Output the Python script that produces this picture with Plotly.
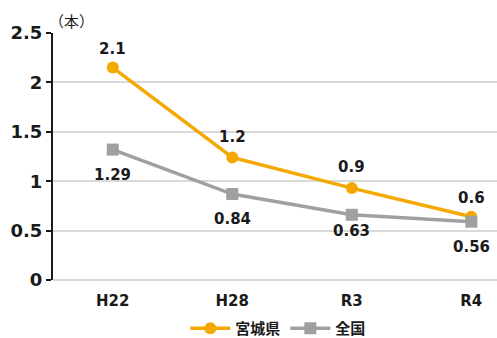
import plotly.graph_objects as go

categories = ["H22", "H28", "R3", "R4"]
miyagi_values = [2.15, 1.24, 0.93, 0.64]
miyagi_labels = ["2.1", "1.2", "0.9", "0.6"]
national_values = [1.32, 0.87, 0.66, 0.59]
national_labels = ["1.29", "0.84", "0.63", "0.56"]
y_ticks = [0, 0.5, 1, 1.5, 2, 2.5]
y_ticklabels = ["0", "0.5", "1", "1.5", "2", "2.5"]

# vertical label offsets (pixels) as placed in the original
miyagi_label_shift = [19, 20, 21, 19]
national_label_shift = [-25, -25, -16, -25]

FONT = "DejaVu Sans, Noto Sans CJK JP"
ORANGE = "#F5A800"
GRAY = "#A0A0A0"

fig = go.Figure()
fig.add_trace(go.Scatter(
    x=categories, y=miyagi_values, name="宮城県",
    mode="lines+markers",
    line=dict(color=ORANGE, width=3.5),
    marker=dict(symbol="circle", size=12, color=ORANGE),
    cliponaxis=False,
))
fig.add_trace(go.Scatter(
    x=categories, y=national_values, name="全国",
    mode="lines+markers",
    line=dict(color=GRAY, width=3.5),
    marker=dict(symbol="square", size=12, color=GRAY),
    cliponaxis=False,
))

annotations = []
for cat, val, lab, sh in zip(categories, miyagi_values, miyagi_labels, miyagi_label_shift):
    annotations.append(dict(x=cat, y=val, text=lab, showarrow=False, yshift=sh,
                            xanchor="center", yanchor="middle",
                            font=dict(family=FONT, size=15, color="#1a1a1a", weight="bold")))
for cat, val, lab, sh in zip(categories, national_values, national_labels, national_label_shift):
    annotations.append(dict(x=cat, y=val, text=lab, showarrow=False, yshift=sh,
                            xanchor="center", yanchor="middle",
                            font=dict(family=FONT, size=15, color="#1a1a1a", weight="bold")))
annotations.append(dict(text="（本）", xref="paper", yref="paper", x=0, y=1,
                        xanchor="left", yanchor="bottom", xshift=-6, yshift=0,
                        showarrow=False,
                        font=dict(size=15, family="Noto Sans CJK JP", color="#1a1a1a")))

fig.update_layout(
    width=497, height=338,
    margin=dict(l=53, r=0, t=33, b=58, autoexpand=False),
    paper_bgcolor="white", plot_bgcolor="white",
    font=dict(family=FONT, color="#1a1a1a"),
    showlegend=True,
    legend=dict(orientation="h", xref="container", x=0.56, xanchor="center",
                yref="paper", y=-0.13, yanchor="top",
                font=dict(size=15, weight="bold", family=FONT),
                itemwidth=40, tracegroupgap=0),
    xaxis=dict(type="category", range=[-0.5, 3.215], showgrid=False,
               showline=False, zeroline=False, ticks="", automargin=False,
               ticklabelstandoff=10,
               tickfont=dict(size=15, weight="bold", family=FONT)),
    yaxis=dict(range=[0, 2.5], tickvals=y_ticks, ticktext=y_ticklabels,
               showgrid=True, gridcolor="#D9D9D9", gridwidth=1.5,
               zeroline=True, zerolinecolor="#D9D9D9", zerolinewidth=1.5,
               showline=True, linecolor="#1a1a1a", linewidth=2,
               ticks="outside", ticklen=5, tickcolor="#1a1a1a", tickwidth=2,
               automargin=False,
               tickfont=dict(size=18, weight="bold", family=FONT)),
    annotations=annotations,
)

fig.write_html("out.html", config={"displayModeBar": False},
               post_script="document.body.style.margin='0';document.body.style.overflow='hidden';")
